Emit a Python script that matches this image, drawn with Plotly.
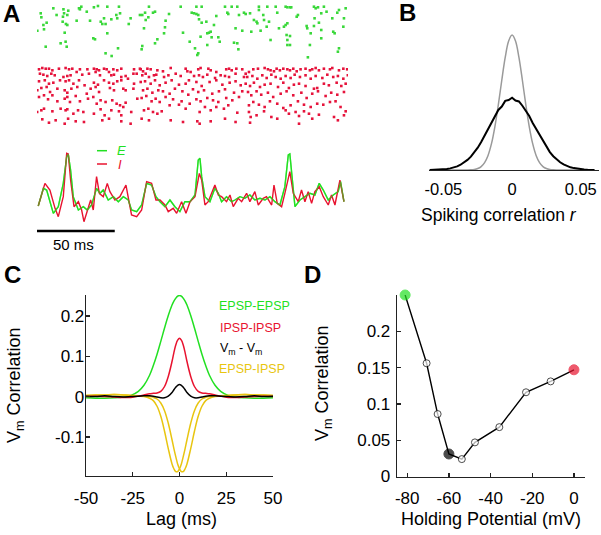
import plotly.graph_objects as go

# ======================= DATA =======================
# Panel A raster: (time in ms, neuron index)
exc_spikes = [
    (2.4,13.3),(2.8,17.3),(0.2,30.7),(4.1,25),(4.5,29.3),(6.2,22.7),(10.5,8.3),(12.6,15),(17,9.3),(17.4,13.3),
    (16.7,16.7),(19.5,15),(20.1,10.7),(16.5,21.7),(18.6,24),(19.5,25),(25.5,20.7),(27,8.3),(28.5,6.7),(27.6,9.3),
    (32,11.7),(34.1,20.7),(36.6,7.3),(39.2,6),(41,21.7),(42,24),(43.1,18.3),(44.1,24),(47.8,19.3),(45.2,33.3),
    (51,15),(51.6,18.3),(52.7,6.7),(53.4,13.3),(60.2,18.3),(59,24),(66.2,15),(17.8,32.7),(15.2,43.3),(18.4,41.7),
    (19.1,46.7),(5.6,46.7),(36.2,38.3),(37.3,39.3),(44.1,53.3),(48,56),(52.1,48.3),(45.2,6.7),
    (67.7,15),(69.5,12.7),(69.9,20),(72,6.7),(74.6,12.7),(75.9,11.7),(71.6,17.3),(68.8,28.3),(82.7,20.7),(84.9,14),
    (82.3,27.3),(81.7,33.3),(77.4,39.3),(75.9,43.3),(67.7,46),(67.3,49.3),(92.4,6.7),(93.9,32.7),(99.5,12.7),(101,13.3),
    (102.5,14),(103.7,15),(102.5,6.7),(105.9,6.7),(104.2,19.3),(105.9,22.7),(108.9,21.7),(115.3,16),(113.8,25),(110.6,32.7),
    (111.7,31.7),(109.5,33.3),(112.3,37.3),(116.6,37.3),(117.5,41.7),(120.9,6.7),(122.4,12.7),(123,14),(125.2,6.7),(128.8,6.7),
    (129.9,15),(133.1,12.7),(127.7,28.3),(132,30.7),(126.7,42.7),(128.8,43.3),(129.5,49.3),(98.2,41.7),(105.2,36.7),(109.5,45),
    (101.6,48.3),(103.7,53.3),(103.1,55),
    (134.2,14),(137,13.3),(139.5,20),(141.2,21.7),(141.7,23.3),(142.7,10),(142.7,6.7),(145.5,15),(146,20),(148.1,6.7),
    (149.2,21.7),(147.7,26.7),(143.8,30.7),(137.8,31.7),(153.5,6.7),(154.5,12.7),(155.6,28.3),(159.9,6.7),(161,7.3),(162.7,7.3),
    (163.5,7.3),(159.9,25),(161,23.3),(158.8,26.7),(167.8,15),(167,16.7),(160.5,35),(162.7,36),(161,40),(161,45),
    (162.7,45),(178.1,6.7),(179.2,8.3),(180.7,7.3),(184.5,6.7),(186.2,11.7),(182.8,13.3),(178.5,18.3),(181.3,22.7),(178.1,26),
    (173.4,26),(173.8,28.3),(176,33.3),(182.8,30),(182.8,38.3),(189.9,18.3),(190.5,31.7),(191.4,33.3),(193.1,12.7),(194.2,10),
    (197.4,18.3),(198.5,8.3),(197,26.7),(194.2,48.3),(193.5,51.7),(175.5,45),(174.2,57.3),(150.2,40),
]
inh_spikes = [
    (1.3,69.3),(3.4,68),(5.6,68.7),(7.7,68.7),(9.9,70.3),(14.1,68.7),(18.4,68),(20.6,69.3),(22.7,68.7),(27.6,69.3),
    (32.4,69.3),(36.6,68.7),(38.4,69.3),(39.9,70.3),(43.1,68.7),(44.8,69.3),(49.1,69.3),(51.6,70.3),(54.2,68.7),(62.4,69.3),
    (66.2,68.7),(1.9,73.7),(4.1,74.7),(6.6,76),(9.2,73.7),(11.4,75.3),(17,77),(19.5,76),(21.6,75.3),(25.5,72),
    (29.1,74.7),(33.4,73.7),(37.7,72),(40.5,75.3),(46.3,72),(47.8,75.3),(49.5,74.7),(54.2,77),(57,76),(62,73.7),
    (64.1,73.7),(1.3,81.3),(5,80.3),(7.7,83.7),(10.5,82.7),(14.8,80.3),(18.4,81.3),(20.6,80.3),(23.4,83.7),(27,80.3),
    (30.6,85.3),(36.6,82.7),(39.2,84.7),(43.1,80.3),(46.3,82.7),(49.1,83.7),(51.6,81.3),(54.2,80.3),(58.5,78.7),(62.4,83.7),
    (0.2,90.3),(2.8,88),(6.2,87),(8.4,92),(13.1,88.7),(17.8,90.3),(19.5,92.7),(22.1,88.7),(25.9,87),(32,93.7),
    (34.5,88.7),(37.7,87),(39.9,92),(46.9,88),(49.5,90.3),(55.5,88.7),(57,90.3),(62,88.7),(1.3,97),(4.5,95.3),
    (7.1,99.3),(9.9,95.3),(13.1,101.3),(17.8,98.7),(19.5,97),(21.2,102),(24.9,96),(27.6,101.3),(32.8,98.7),(36.2,97),
    (38.4,103.7),(40.9,100.3),(44.1,102),(48.4,100.3),(51.2,103.7),(53.4,105.3),(55.5,107),(57,102.7),(64.5,98.7),(0.1,112),
    (2.8,110.3),(4.5,108.7),(9.9,111.3),(15.2,108.7),(18.4,110.3),(19.5,109.3),(23.4,113.7),(26.4,110.3),(29.8,112),(36.6,113.7),
    (40.9,109.3),(43.5,115.3),(47.8,110.3),(52.7,111.3),(54.2,115.3),(60.6,112),(3.4,119.3),(7.7,122.7),(12,120.3),(17.8,123.7),
    (20,118.7),(24.9,121.3),(30.2,122),(42,120.3),(46.3,118.7),(54.2,121.3),(60.2,123.7),
    (66.7,69.3),(68.2,71.3),(71,68.7),(73.1,69.3),(77.4,70.3),(81,71.3),(86,68),(95.6,68.7),(96.7,71.3),(103.7,69.3),
    (105.2,68),(110.2,68.7),(111.7,70.3),(115.3,72),(121.7,69.3),(123.5,68.7),(125.2,70.3),(128.2,68.7),(132,69.3),(67.7,75.3),
    (69.9,73.7),(72,77),(75.2,75.3),(76.7,74.7),(81.7,77),(84.5,75.3),(89.2,73.7),(92.4,76),(98.8,72),(101,76),
    (104.2,75.3),(106.7,77),(109.5,74.7),(114.5,78),(118.1,75.3),(120.9,76),(123.5,77),(127.7,73.7),(133.1,77),(66.7,82),
    (69.5,81.3),(73.1,83.7),(75.9,80.3),(78.9,85.3),(82.7,82.7),(86.6,80.3),(91.3,84.7),(95.6,83.7),(97.7,80.3),(102.5,82),
    (105.9,86),(111,82),(115.3,80.3),(119.2,84.7),(123.9,82.7),(127.7,81.3),(131,85.3),(68.2,90.3),(71,88.7),(74.2,92.7),
    (78,90.3),(81,91.3),(85.3,93.7),(88.7,88.7),(93.5,91.3),(97.3,94.7),(100.3,89.3),(103.7,92),(107.4,90.3),(112.7,93.7),
    (117,91.3),(120.9,89.3),(126.7,92.7),(132,91.3),(67.3,98),(70.3,96),(73.7,101.3),(76.3,98.7),(78.9,102),(82.7,97),
    (87.5,99.3),(93,101.3),(98.2,103.7),(102.5,99.3),(105.2,101.3),(109.5,98),(113.2,100.3),(116.6,102),(121.7,98),(125.6,100.3),
    (129.9,97),(68.8,110.3),(71.6,108.7),(74.6,112),(77.4,113.7),(80.2,111.3),(85.3,105.3),(91.3,104.7),(95.6,108.7),(104.6,112),
    (108,107),(111.7,110.3),(115.3,107),(120.2,108.7),(123,105.3),(128.8,112.7),(67.3,118.7),(72,120.3),(86,120.3),(93.9,122),
    (103.1,121.3),(104.6,123.7),(111.7,121.3),(120.9,118.7),(127.7,122),
    (134.2,73.7),(136.3,72),(139.1,69.3),(142.1,68.7),(146.4,68),(148.5,69.3),(150.2,70.3),(152.4,71.3),(154.1,68.7),(156.2,70.3),
    (158.4,68.7),(161,69.3),(162.7,70.3),(164.8,68.7),(167,71.3),(169.5,69.3),(172.7,68.7),(175.5,70.3),(177,69.3),(179.2,68),
    (181.3,70.3),(184.5,68.7),(188.4,69.3),(189.9,68),(194.2,70.3),(197,68.7),(199.5,69.3),(135.2,77),(138.5,76),(141.7,78.7),
    (144.9,75.3),(147.7,78),(150.7,74.7),(153.5,77),(156.7,78.7),(159.9,76),(163.1,78),(165.7,74.7),(169.1,77),(172.7,75.3),
    (176,78.7),(179.2,76),(183.5,78),(186.7,74.7),(190.5,77),(193.5,76),(197,78.7),(199.9,75.3),(134.2,83.7),(137,86),
    (139.5,82.7),(143.4,87),(146.4,84.7),(150.2,83.7),(155,87),(158.4,82.7),(162,88),(165.2,84.7),(168.5,83.7),(172.7,86),
    (178.1,88.7),(180.2,88),(184.5,83.7),(187.7,85.3),(192.7,82.7),(195.7,86),(198.5,83.7),(135.7,92),(137.8,95.3),(141.2,91.3),
    (144.2,94.7),(148.5,92.7),(151.9,97),(156.7,93.7),(160.5,91.3),(164.8,95.3),(170,92.7),(173.4,98),(177,93.7),(180.7,91.3),
    (185.6,96),(189.2,92.7),(193.1,94.7),(197.4,92),(136.3,105.3),(139.1,102),(142.7,104.7),(146.4,107),(149.8,101.3),(154.5,103.7),
    (158.4,108),(163.1,105.3),(167.8,101.3),(171.7,104.7),(176,107),(180.2,103.7),(184.1,104.7),(188.4,102),(192,101.3),(195.2,107),
    (136.3,112),(137.4,117),(137,122.7),(141.2,115.3),(146,111.3),(150.7,117),(154.5,118.7),(159.9,110.3),(162,113.7),(166.3,112),
    (168.5,116),(168.5,123.7),(171.7,111.3),(174.9,113.7),(177,118.7),(181.3,114.7),(191,117),(193.5,120.3),(197.4,115.3),(198.5,111.3),
]

# Panel A membrane traces (arbitrary units)
trace_t_E = [0.8,4.1,6.2,8.3,10.5,13.7,16.9,19.1,20.1,21.6,23.3,26.6,29.8,32.3,35.1,38.3,40.5,42.6,45.8,49.1,
             52.3,55.5,58.7,60.8,64.1,67.3,70.5,73.7,76.5,79.1,82.3,85.5,88.7,91.9,95.1,98.4,101.6,103.7,104.8,105.9,
             108,111.2,114.4,116.6,118.7,121.9,125.1,127.3,130.5,133.7,136.9,140.1,143.4,146.6,149.8,153,156.2,159.4,161.6,162.6,
             164.1,165.9,169.1,172.3,175.5,178.7,181.5,184.1,187.3,190.5,193.7,195.2,197.4]
trace_E = [12,65,60,25,-10,10,80,160,168,120,40,0,10,0,15,65,50,60,30,40,
           25,40,30,0,-5,15,80,75,40,25,10,30,10,-5,25,25,45,150,155,100,
           40,25,65,50,25,40,25,30,40,35,45,30,35,30,40,25,15,70,165,168,
           100,10,30,40,50,45,80,60,30,45,55,85,25]
trace_t_I = [0.8,5.1,8.3,11.6,13.7,16.9,19.1,20.1,21.6,23.8,26.6,28.7,30.2,32.3,34.5,36.2,38.3,40.1,42.6,45.2,
             46.9,50.1,53.3,57.2,58.7,60.8,64.1,67.3,70.5,73.7,76.5,79.1,82.3,84.4,87.6,89.8,93,95.8,98.4,101.6,
             104.4,105.9,108,110.1,114.4,116.6,118.7,121.9,124.1,126.2,129.4,131.6,134.8,136.9,140.1,142.3,145.5,147.6,150.9,152.4,
             154.5,157.3,159.4,162.6,164.8,168,170.1,172.3,174.4,176.6,178.7,181.5,184.1,187.3,189.4,191.6,194.8,197.4]
trace_I = [12,80,60,5,-20,40,170,168,90,10,25,0,-35,0,30,0,100,50,40,80,
           55,30,40,75,40,-15,-20,0,85,80,30,30,15,-5,5,-10,25,-10,25,40,
           110,90,15,25,75,45,40,25,45,10,35,25,50,25,55,15,35,40,15,75,
           20,10,50,115,50,25,60,25,55,20,55,70,40,15,45,15,90,25]

# Panel B: spiking-correlation distributions
r_bins = [-0.06,-0.0575,-0.055,-0.0525,-0.05,-0.0475,-0.045,-0.0425,-0.04,-0.0375,-0.035,-0.0325,-0.03,-0.0275,-0.025,
          -0.0225,-0.02,-0.0175,-0.015,-0.0125,-0.01,-0.0075,-0.005,-0.0025,0,0.0025,0.005,0.0075,0.01,0.0125,
          0.015,0.0175,0.02,0.0225,0.025,0.0275,0.03,0.0325,0.035,0.0375,0.04,0.0425,0.045,0.0475,0.05,
          0.0525,0.055,0.0575,0.06]
dist_gray = [0,0,0,0,0,0,0,0,0,0,0.0001,0.0005,0.0015,0.0041,0.0107,
             0.0254,0.0549,0.108,0.195,0.322,0.484,0.665,0.834,0.956,1.0,0.956,0.834,0.665,0.484,0.322,
             0.195,0.108,0.0549,0.0254,0.0107,0.0041,0.0015,0.0005,0.0001,0,0,0,0,0,0,
             0,0,0,0]
dist_black = [0.0005,0.001,0.002,0.003,0.005,0.008,0.012,0.018,0.027,0.039,0.055,0.075,0.099,0.130,0.165,
              0.207,0.255,0.300,0.356,0.395,0.445,0.470,0.512,0.518,0.535,0.515,0.508,0.476,0.438,0.400,
              0.348,0.305,0.252,0.210,0.168,0.133,0.102,0.077,0.057,0.041,0.029,0.020,0.014,0.009,0.006,
              0.004,0.002,0.001,0.0005]

# Panel C: Vm cross-correlations vs lag
lags = [-50,-45,-40,-35,-30,-26,-22,-19,-16,-14,-12,-10,-8,-6,-4,-3,-2,-1,0,
        1,2,3,4,6,8,10,12,14,16,19,22,26,30,35,40,45,50]
cc_epsp_epsp = [-0.003,-0.004,-0.004,-0.003,-0.001,0.003,0.013,0.028,0.053,0.077,0.105,0.137,0.170,0.201,0.227,0.237,0.244,0.249,0.251,
                0.249,0.244,0.237,0.227,0.201,0.170,0.137,0.105,0.077,0.053,0.028,0.013,0.003,-0.001,-0.003,-0.004,-0.004,-0.003]
cc_ipsp_ipsp = [0.000,0.001,0.000,-0.001,-0.002,-0.002,0.001,0.004,0.007,0.008,0.009,0.013,0.025,0.050,0.087,0.109,0.128,0.140,0.145,
                0.140,0.128,0.109,0.087,0.050,0.025,0.013,0.009,0.008,0.007,0.004,0.001,-0.002,-0.002,-0.001,0.000,0.001,0.000]
cc_vm_vm = [0.001,0.000,0.002,0.000,-0.001,0.000,0.001,0.002,0.002,0.001,-0.001,-0.003,-0.003,0.001,0.010,0.017,0.023,0.028,0.030,
            0.028,0.023,0.017,0.010,0.001,-0.003,-0.003,-0.001,0.001,0.002,0.002,0.001,0.000,-0.001,0.000,0.002,0.000,0.001]
cc_epsp_ipsp_a = [0.003,0.004,0.004,0.005,0.004,0.003,0.001,0.000,-0.004,-0.010,-0.024,-0.049,-0.086,-0.129,-0.167,-0.179,-0.186,-0.186,-0.179,
                  -0.167,-0.149,-0.129,-0.107,-0.066,-0.035,-0.016,-0.006,-0.002,0.000,0.001,0.002,0.003,0.004,0.005,0.004,0.004,0.003]
cc_epsp_ipsp_b = [0.003,0.004,0.004,0.005,0.004,0.003,0.002,0.001,0.000,-0.002,-0.006,-0.016,-0.035,-0.066,-0.107,-0.129,-0.149,-0.167,-0.179,
                  -0.186,-0.186,-0.179,-0.167,-0.129,-0.086,-0.049,-0.024,-0.010,-0.004,0.000,0.001,0.003,0.004,0.005,0.004,0.004,0.003]

# Panel D: Vm correlation vs holding potential
hold_mv = [-81, -70.7, -65.4, -60, -53.8, -47.5, -35.8, -23, -11.2, 0]
hold_corr = [0.25, 0.156, 0.086, 0.031, 0.024, 0.047, 0.068, 0.116, 0.131, 0.147]

# ======================= STYLE / LAYOUT =======================
W, H = 601, 535
def px(x): return x / W
def py(y): return 1 - y / H

GREEN = "#22e022"
RED = "#e8132f"
YELLOW = "#e8c510"
FONT = "Liberation Sans, Arial, Helvetica, sans-serif"

fig = go.Figure()

# ---- A: raster
fig.add_trace(go.Scatter(x=[s[0] for s in exc_spikes], y=[s[1] for s in exc_spikes], mode="markers",
                         marker=dict(symbol="square", size=2.6, color="#3ad83a", line=dict(width=0)),
                         xaxis="x", yaxis="y", showlegend=False, hoverinfo="skip"))
fig.add_trace(go.Scatter(x=[s[0] for s in inh_spikes], y=[s[1] for s in inh_spikes], mode="markers",
                         marker=dict(symbol="square", size=2.6, color="#e6143c", line=dict(width=0)),
                         xaxis="x", yaxis="y", showlegend=False, hoverinfo="skip"))
# ---- A: traces
fig.add_trace(go.Scatter(x=trace_t_E, y=trace_E, mode="lines", line=dict(color=GREEN, width=1.4),
                         xaxis="x2", yaxis="y2", showlegend=False))
fig.add_trace(go.Scatter(x=trace_t_I, y=trace_I, mode="lines", line=dict(color=RED, width=1.4),
                         xaxis="x2", yaxis="y2", showlegend=False))
fig.add_trace(go.Scatter(x=trace_t_E, y=trace_E, mode="lines", line=dict(color=GREEN, width=1.4),
                         xaxis="x2", yaxis="y2", showlegend=False, opacity=0.55))

# ---- B
fig.add_trace(go.Scatter(x=r_bins, y=dist_gray, mode="lines", line=dict(color="#9a9a9a", width=1.5, shape="spline"),
                         xaxis="x3", yaxis="y3", showlegend=False))
fig.add_trace(go.Scatter(x=r_bins, y=dist_black, mode="lines", line=dict(color="black", width=2),
                         xaxis="x3", yaxis="y3", showlegend=False))

# ---- C
for vals, col in [(cc_epsp_epsp, GREEN), (cc_epsp_ipsp_a, YELLOW), (cc_epsp_ipsp_b, YELLOW),
                  (cc_ipsp_ipsp, RED), (cc_vm_vm, "black")]:
    fig.add_trace(go.Scatter(x=lags, y=vals, mode="lines", line=dict(color=col, width=1.5, shape="spline"),
                             xaxis="x4", yaxis="y4", showlegend=False))

# ---- D
fills = [GREEN, "white", "white", "black", "white", "white", "white", "white", "white", RED]
edges = [GREEN, "black", "black", "black", "black", "black", "black", "black", "black", RED]
sizes = [10, 7, 7, 10, 7, 7, 7, 7, 7, 10]
fig.add_trace(go.Scatter(x=hold_mv, y=hold_corr, mode="lines+markers",
                         line=dict(color="black", width=1.4),
                         marker=dict(color=fills, size=sizes, line=dict(color=edges, width=1)),
                         xaxis="x5", yaxis="y5", showlegend=False, cliponaxis=False))

axis_common = dict(showgrid=False, zeroline=False, showline=True, linecolor="#222", linewidth=1.3,
                   ticks="inside", ticklen=4, tickwidth=1.2, tickcolor="#222", automargin=False,
                   tickfont=dict(size=17, color="black", family=FONT))

fig.update_layout(
    width=W, height=H, margin=dict(l=0, r=0, t=0, b=0, pad=0, autoexpand=False),
    paper_bgcolor="white", plot_bgcolor="white", showlegend=False,
    font=dict(family=FONT, color="black"),
    xaxis=dict(domain=[px(37), px(348)], range=[0, 200], visible=False, anchor="y", automargin=False),
    yaxis=dict(domain=[py(130), py(0)], range=[130, 0], visible=False, anchor="x", automargin=False),
    xaxis2=dict(domain=[px(37), px(348)], range=[0, 200], visible=False, anchor="y2", automargin=False),
    yaxis2=dict(domain=[py(225), py(151.7)], range=[-45, 175], visible=False, anchor="x2", automargin=False),
    xaxis3=dict(domain=[px(429), px(599)], range=[-0.0605, 0.0633], anchor="y3",
                tickvals=[-0.05, 0, 0.05], ticktext=["-0.05", "0", "0.05"], ticklabelstandoff=4,
                **{**axis_common, "ticklen": 0, "tickfont": dict(size=16.5, color="black", family=FONT)}),
    yaxis3=dict(domain=[py(170), py(28)], range=[0, 1.052], visible=False, anchor="x3", automargin=False),
    xaxis4=dict(domain=[px(86), px(273)], range=[-50, 50], anchor="y4",
                tickvals=[-50, -25, 0, 25, 50], ticktext=["-50", "-25", "0", "25", "50"],
                ticklabelstandoff=6, **axis_common),
    yaxis4=dict(domain=[py(476), py(295)], range=[-0.197, 0.252], anchor="x4",
                tickvals=[-0.1, 0, 0.1, 0.2], ticktext=["-0.1", "0", "0.1", "0.2"],
                ticklabelstandoff=-3, **axis_common),
    xaxis5=dict(domain=[px(397), px(585)], range=[-84.9, 5.3], anchor="y5",
                tickvals=[-80, -60, -40, -20, 0], ticktext=["-80", "-60", "-40", "-20", "0"],
                ticklabelstandoff=6, **axis_common),
    yaxis5=dict(domain=[py(476.5), py(295)], range=[0, 0.25], anchor="x5",
                tickvals=[0, 0.05, 0.1, 0.15, 0.2], ticktext=["0", "0.05", "0.1", "0.15", "0.2"],
                ticklabelstandoff=2, **axis_common),
)

def note(text, x, y, size, color="black", xanchor="center", **kw):
    fig.add_annotation(text=text, x=px(x), y=py(y), xref="paper", yref="paper", showarrow=False,
                       xanchor=xanchor, yanchor="middle",
                       font=dict(size=size, color=color, family=FONT), **kw)

# panel letters
note("<b>A</b>", 11, 14, 24)
note("<b>B</b>", 408, 13, 24)
note("<b>C</b>", 12, 274, 24)
note("<b>D</b>", 312, 274, 24)

# A: scale bar + E/I key
fig.add_shape(type="line", xref="x2", yref="paper", x0=0, x1=50, y0=py(231), y1=py(231),
              line=dict(color="black", width=2.5))
note("50 ms", 73, 245, 15)
fig.add_shape(type="line", xref="paper", yref="paper", x0=px(97), x1=px(107), y0=py(150.7), y1=py(150.7),
              line=dict(color=GREEN, width=1.5))
fig.add_shape(type="line", xref="paper", yref="paper", x0=px(97), x1=px(107), y0=py(164), y1=py(164),
              line=dict(color=RED, width=1.5))
note("<i>E</i>", 122, 150.5, 13, GREEN)
note("<i>I</i>", 120, 164, 13, RED)

# B title
note("Spiking correlation <i>r</i>", 499, 215, 17.5)

# C legend + titles
note("EPSP-EPSP", 217, 306, 12.5, GREEN, xanchor="left")
note("IPSP-IPSP", 218, 328, 12.5, RED, xanchor="left")
note("V<sub>m</sub> - V<sub>m</sub>", 218, 349, 12.5, "black", xanchor="left")
note("EPSP-IPSP", 217, 369, 12.5, YELLOW, xanchor="left")
note("Lag (ms)", 181, 519, 18)
note("V<sub>m</sub> Correlation", 15, 385, 18, textangle=-90)

# D titles
note("Holding Potential (mV)", 491, 519, 18)
note("V<sub>m</sub> Correlation", 323, 383, 18, textangle=-90)

# remove the browser's default 8px body margin so the figure sits at the page origin
fig.write_html("out.html", config={"displayModeBar": False, "staticPlot": True},
               post_script="document.body.style.margin='0px';document.body.style.overflow='hidden';")
